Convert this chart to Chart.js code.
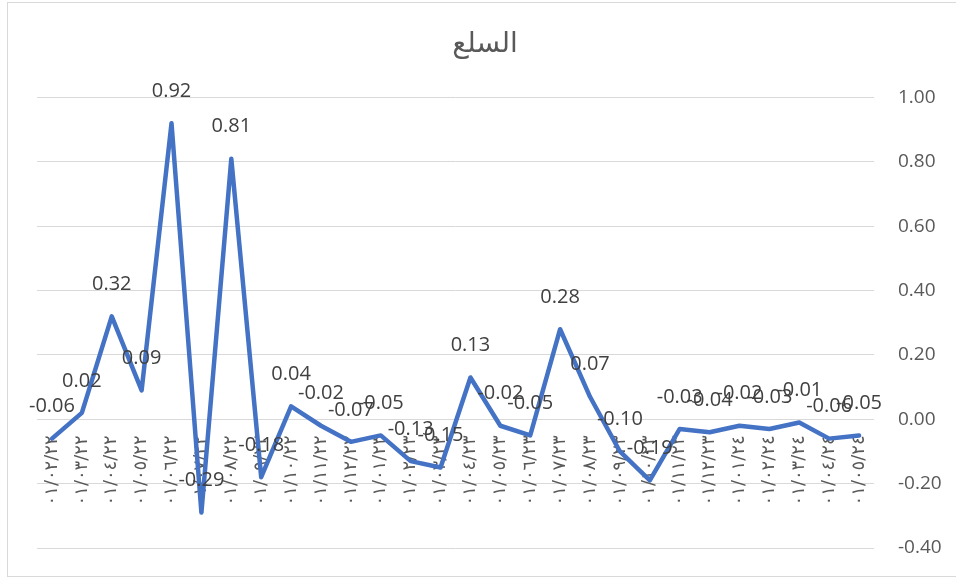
<!DOCTYPE html>
<html>
<head>
<meta charset="utf-8">
<script src="https://cdn.jsdelivr.net/npm/chart.js@4"></script>
<style>
  body { margin: 0; background: #fff; }
  canvas { display: block; }
</style>
</head>
<body>
<canvas id="goodsChart" width="956" height="580"></canvas>
<script>
// tick labels (Feb 2022 .. May 2024), as written on the category axis
const monthLabels = [
  '٠١/٠٢/٢٢', '٠١/٠٣/٢٢', '٠١/٠٤/٢٢', '٠١/٠٥/٢٢', '٠١/٠٦/٢٢', '٠١/٠٧/٢٢',
  '٠١/٠٨/٢٢', '٠١/٠٩/٢٢', '٠١/١٠/٢٢', '٠١/١١/٢٢', '٠١/١٢/٢٢',
  '٠١/٠١/٢٣', '٠١/٠٢/٢٣', '٠١/٠٣/٢٣', '٠١/٠٤/٢٣', '٠١/٠٥/٢٣', '٠١/٠٦/٢٣',
  '٠١/٠٧/٢٣', '٠١/٠٨/٢٣', '٠١/٠٩/٢٣', '٠١/١٠/٢٣', '٠١/١١/٢٣', '٠١/١٢/٢٣',
  '٠١/٠١/٢٤', '٠١/٠٢/٢٤', '٠١/٠٣/٢٤', '٠١/٠٤/٢٤', '٠١/٠٥/٢٤'
];

// series values
const goodsValues = [
  -0.06, 0.02, 0.32, 0.09, 0.92, -0.29, 0.81, -0.18, 0.04, -0.02, -0.07,
  -0.05, -0.13, -0.15, 0.13, -0.02, -0.05, 0.28, 0.07, -0.10, -0.19,
  -0.03, -0.04, -0.02, -0.03, -0.01, -0.06, -0.05
];

const chartTitle = 'السلع';

// value axis
const yMin = -0.4;
const yMax = 1.0;
const yStep = 0.2;

// frame round the whole chart
const framePlugin = {
  id: 'frame',
  beforeDraw(chart) {
    const ctx = chart.ctx;
    ctx.save();
    ctx.strokeStyle = '#d9d9d9';
    ctx.lineWidth = 1;
    ctx.strokeRect(7.5, 2.5, 960, 574);
    ctx.restore();
  }
};

// value labels above each point
const pointLabels = {
  id: 'pointLabels',
  afterDatasetsDraw(chart) {
    const ctx = chart.ctx;
    const meta = chart.getDatasetMeta(0);
    ctx.save();
    ctx.font = '20px "Open Sans"';
    ctx.fillStyle = '#404040';
    ctx.textAlign = 'center';
    ctx.textBaseline = 'middle';
    meta.data.forEach((pt, i) => {
      ctx.fillText(goodsValues[i].toFixed(2), pt.x, pt.y - 32);
    });
    ctx.restore();
  }
};

new Chart(document.getElementById('goodsChart'), {
  type: 'line',
  data: {
    labels: monthLabels,
    datasets: [{
      data: goodsValues,
      borderColor: '#4472C4',
      borderWidth: 4.5,
      borderJoinStyle: 'round',
      borderCapStyle: 'round',
      pointRadius: 0,
      tension: 0,
      fill: false
    }]
  },
  options: {
    responsive: false,
    animation: false,
    layout: { padding: { left: 14, right: 0, top: 0, bottom: 32 } },
    plugins: {
      legend: { display: false },
      tooltip: { enabled: false },
      title: {
        display: true,
        text: chartTitle,
        color: '#595959',
        font: { family: 'DejaVu Sans', size: 28, weight: 'normal' },
        padding: { top: 28, bottom: 36 }
      }
    },
    scales: {
      x: {
        type: 'category',
        position: { y: 0 },
        offset: true,
        border: { display: false },
        grid: {
          drawOnChartArea: false,
          drawTicks: true,
          tickLength: 16,
          color: 'rgba(0,0,0,0)'
        },
        ticks: {
          autoSkip: false,
          maxRotation: 90,
          minRotation: 90,
          padding: 0,
          color: '#595959',
          font: { family: 'DejaVu Sans', size: 18 }
        }
      },
      y: {
        position: 'right',
        min: yMin,
        max: yMax,
        border: { display: false },
        grid: { color: '#d9d9d9', lineWidth: 1, drawTicks: false },
        ticks: {
          stepSize: yStep,
          padding: 24,
          color: '#595959',
          font: { family: 'Open Sans', size: 19 },
          callback: v => (Math.abs(v) < 1e-9 ? 0 : v).toFixed(2)
        },
        afterFit(scale) {
          scale.width = 82;
          scale.paddingTop = 0;
          scale.paddingBottom = 0;
        }
      },
      // empty strip left of the plot, so the title sits where it does in the original
      gap: {
        position: 'left',
        display: true,
        border: { display: false },
        grid: { display: false },
        ticks: { display: false },
        afterFit(scale) { scale.width = 23; }
      }
    }
  },
  plugins: [framePlugin, pointLabels]
});
</script>
</body>
</html>
